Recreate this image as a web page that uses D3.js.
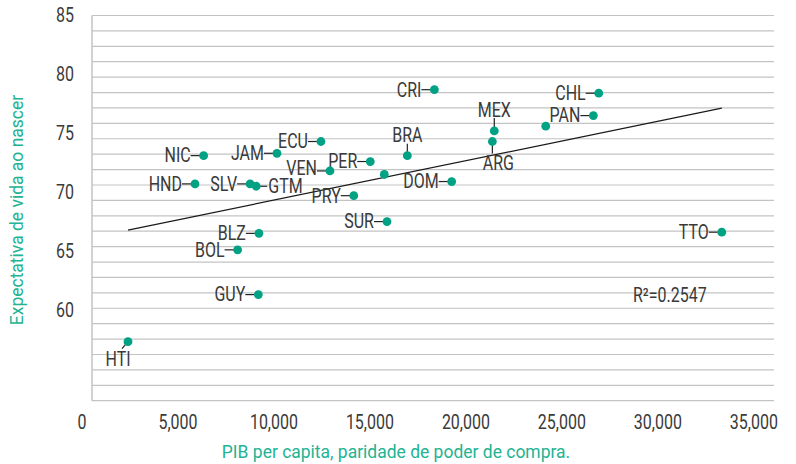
<!DOCTYPE html>
<html>
<head>
<meta charset="utf-8">
<script src="https://cdn.jsdelivr.net/npm/d3@7"></script>
<style>
  body { margin: 0; background: #fff; }
  svg text { font-family: "Roboto", "Liberation Sans", sans-serif; }
</style>
</head>
<body>
<svg id="chart" width="796" height="464"></svg>
<script>
// Country codes ("" = point without label in the original)
const codes = ["HTI", "GUY", "BOL", "BLZ", "HND", "NIC", "SLV", "GTM", "JAM", "ECU", "VEN", "PER",
               "PRY", "SUR", "", "BRA", "CRI", "DOM", "MEX", "ARG", "", "PAN", "CHL", "TTO"];
// PIB per capita (PPC)
const gdp = [2190, 8980, 7900, 9010, 5680, 6130, 8550, 8870, 9950, 12240, 12710, 14810,
             13950, 15680, 15540, 16740, 18150, 19050, 21270, 21170, 23950, 26430, 26710, 33120];
// Expectativa de vida ao nascer
const lifeExp = [57.3, 61.3, 65.1, 66.5, 70.7, 73.1, 70.7, 70.5, 73.3, 74.3, 71.8, 72.6,
                 69.7, 67.5, 71.5, 73.1, 78.7, 70.9, 75.2, 74.3, 75.6, 76.5, 78.4, 66.6];

const xTicks = [0, 5000, 10000, 15000, 20000, 25000, 30000, 35000];
const yTicks = [60, 65, 70, 75, 80, 85];
const r2Label = "R²=0.2547";
const xTitle = "PIB per capita, paridade de poder de compra.";
const yTitle = "Expectativa de vida ao nascer";

// label placement (layout only): side of the point the label sits on
const placement = {
  GTM: { side: "right" },
  VEN: { side: "left", dy: -3 },
  BRA: { side: "top", len: 12 },
  MEX: { side: "top", len: 13 },
  ARG: { side: "bottom", dx: 6 },
  HTI: { side: "bottomleft" }
};

const data = codes.map((c, i) => ({ code: c, x: gdp[i], y: lifeExp[i] }));

const teal = "#00a283";
const titleTeal = "#22b394";
const textColor = "#3a3a3a";
const grid = "#c3c3c3";

// the original uses a condensed face; squeeze Roboto horizontally
const squeeze = 0.82;
const titleSqueeze = 0.92;

const svg = d3.select("#chart");

function addText(g, tx, ty, str, opts = {}) {
    const t = g.append("text")
        .attr("transform", `translate(${tx},${ty})${opts.rotate ? " rotate(-90)" : ""} scale(${opts.sx || squeeze},1)`)
        .attr("dy", "0.35em")
        .attr("text-anchor", opts.anchor || "middle")
        .attr("fill", opts.fill || textColor)
        .style("font-size", (opts.size || 19.5) + "px")
        .text(str);
    return t;
}

const plotL = 92, plotR = 774, plotT = 15.5, plotB = 400.7;

const x = d3.scaleLinear()
    .domain([315, 35840])
    .range([plotL, plotR]);

const y = d3.scaleLinear()
    .domain([52.29, 85])
    .range([plotB, plotT]);

// gridlines: 25 equal intervals across the plot height
const nGrid = 25;
const gridVals = d3.range(nGrid + 1).map(i => y.domain()[0] + i * (y.domain()[1] - y.domain()[0]) / nGrid);

svg.append("g")
    .selectAll("line")
    .data(gridVals)
    .join("line")
    .attr("x1", plotL)
    .attr("x2", plotR)
    .attr("y1", d => y(d))
    .attr("y2", d => y(d))
    .attr("stroke", grid)
    .attr("stroke-width", 1.2);

// vertical axis line
svg.append("line")
    .attr("x1", plotL).attr("x2", plotL)
    .attr("y1", plotT).attr("y2", plotB)
    .attr("stroke", grid)
    .attr("stroke-width", 1.5);

// Y tick labels
const yAxisG = svg.append("g");
yTicks.forEach(d => addText(yAxisG, 74, y(d), d, { anchor: "end" }));

// X tick labels
const xAxisG = svg.append("g");
xTicks.forEach(d => addText(xAxisG, x(d) - 4, 422, d3.format(",")(d)));

// axis titles
addText(svg, 396, 451, xTitle, { fill: titleTeal, size: 19, sx: titleSqueeze });
addText(svg, 16, 210, yTitle, { fill: titleTeal, size: 19, sx: titleSqueeze, rotate: true });

// linear trend (least squares)
const mx = d3.mean(gdp), my = d3.mean(lifeExp);
const slope = d3.sum(gdp, (g, i) => (g - mx) * (lifeExp[i] - my)) / d3.sum(gdp, g => (g - mx) ** 2);
const intercept = my - slope * mx;
const [gx0, gx1] = d3.extent(gdp);

svg.append("line")
    .attr("x1", x(gx0)).attr("y1", y(intercept + slope * gx0))
    .attr("x2", x(gx1)).attr("y2", y(intercept + slope * gx1))
    .attr("stroke", "#1a1a1a")
    .attr("stroke-width", 1.2);

addText(svg, 633, 295, r2Label, { anchor: "start" });

// labels + leader lines
const labels = svg.append("g");
data.filter(d => d.code).forEach(d => {
    const px = x(d.x), py = y(d.y);
    const p = placement[d.code] || { side: "left" };
    const dy = p.dy || 0;
    let lx1, ly1, tx, ty, anchor;
    if (p.side === "left") {
        lx1 = px - 13; ly1 = py; tx = px - 13; ty = py + dy; anchor = "end";
    } else if (p.side === "right") {
        lx1 = px + 11; ly1 = py; tx = px + 12; ty = py + dy; anchor = "start";
    } else if (p.side === "top") {
        lx1 = px; ly1 = py - p.len; tx = px; ty = py - p.len - 8; anchor = "middle";
    } else if (p.side === "bottom") {
        lx1 = px; ly1 = py + 12; tx = px + (p.dx || 0); ty = py + 22; anchor = "middle";
    } else {
        lx1 = px - 6; ly1 = py + 7; tx = px - 10; ty = py + 17; anchor = "middle";
    }
    labels.append("line")
        .attr("x1", lx1).attr("y1", ly1)
        .attr("x2", px).attr("y2", py)
        .attr("stroke", "#222")
        .attr("stroke-width", 1.2);
    addText(labels, tx, ty, d.code, { anchor });
});

// points
svg.append("g")
    .selectAll("circle")
    .data(data)
    .join("circle")
    .attr("cx", d => x(d.x))
    .attr("cy", d => y(d.y))
    .attr("r", 4.4)
    .attr("fill", teal);
</script>
</body>
</html>
